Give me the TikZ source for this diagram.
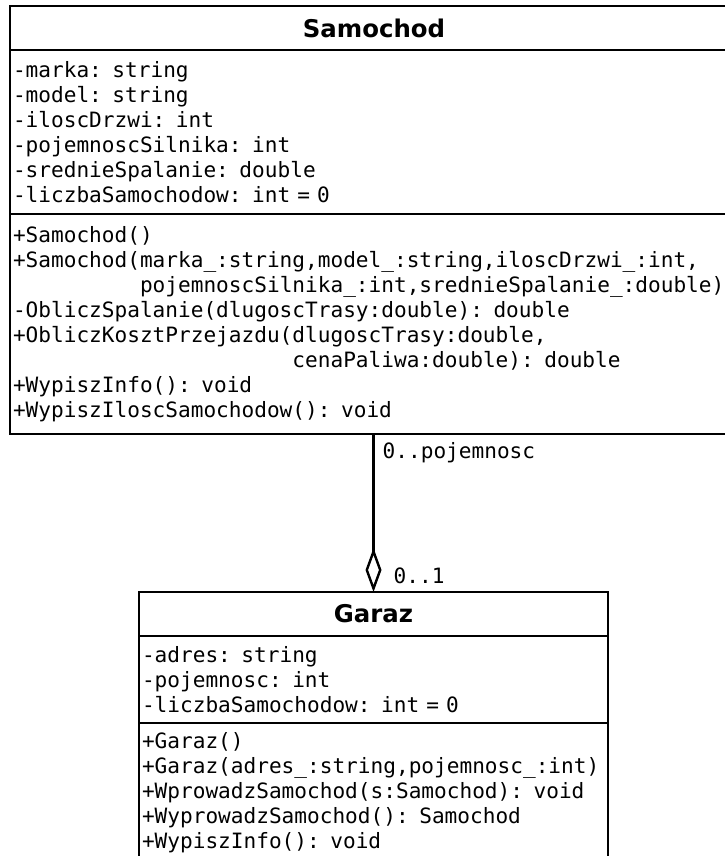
\documentclass[tikz,border=0pt]{standalone}
\usepackage{fontspec}
\setsansfont{DejaVu Sans}
\setmonofont{DejaVu Sans Mono}
\usepackage{tikz}
\usetikzlibrary{arrows.meta, positioning}
\tikzset{
    titlenode/.style = {draw, rectangle, inner sep=0pt, outer sep=0pt, minimum height=22pt,
      font=\fontsize{12.2}{14}\selectfont\sffamily\bfseries},
    listnode/.style = {draw, rectangle, inner xsep=1.5pt, inner ysep=0pt, outer sep=0pt,
      align=left, font=\fontsize{10.55}{12.5}\selectfont\ttfamily},
    textnode/.style = {draw=none, fill=none, rectangle, inner sep=0pt,
      font=\fontsize{10.55}{12.5}\selectfont\ttfamily},
    aggregation/.style = {black, -{Diamond[open, length=22pt, width=8pt]}}
}

\begin{document}
\begin{tikzpicture}[line width=1.2pt]
    \useasboundingbox (0,0) rectangle (362pt,-428pt);

    \node [name=sam, titlenode, minimum width=364pt, anchor=north west] at (5pt,-3pt) {Samochod};
    \node [name=samattr, listnode, text width=361pt, minimum height=82pt, below=0pt of sam]
        {-marka: string\\
         -model: string\\
         -iloscDrzwi: int\\
         -pojemnoscSilnika: int\\
         -srednieSpalanie: double\\
         -liczbaSamochodow: int = 0};
    \node [name=samops, listnode, text width=361pt, minimum height=110pt, below=0pt of samattr]
        {+Samochod()\\
         +Samochod(marka\_:string,model\_:string,iloscDrzwi\_:int,\\
         \phantom{+Samochod(}pojemnoscSilnika\_:int,srednieSpalanie\_:double)\\
         -ObliczSpalanie(dlugoscTrasy:double): double\\
         +ObliczKosztPrzejazdu(dlugoscTrasy:double,\\
         \phantom{+ObliczKosztPrzejazdu(}cenaPaliwa:double): double\\
         +WypiszInfo(): void\\
         +WypiszIloscSamochodow(): void};

    \node [name=gar, titlenode, minimum width=234.5pt, anchor=north west] at (69.5pt,-296pt) {Garaz};
    \node [name=garattr, listnode, text width=231.5pt, minimum height=43.5pt, below=0pt of gar]
        {-adres: string\\
         -pojemnosc: int\\
         -liczbaSamochodow: int = 0};
    \node [name=garops, listnode, text width=231.5pt, minimum height=70pt, below=0pt of garattr]
        {+Garaz()\\
         +Garaz(adres\_:string,pojemnosc\_:int)\\
         +WprowadzSamochod(s:Samochod): void\\
         +WyprowadzSamochod(): Samochod\\
         +WypiszInfo(): void};

    \draw [aggregation] (samops.south -| gar.north) -- (gar.north)
        node [textnode, pos=0, anchor=north west, xshift=4pt, yshift=-3.5pt] {0..pojemnosc}
        node [textnode, pos=1, anchor=south west, xshift=9.5pt, yshift=3.5pt] {0..1};
\end{tikzpicture}
\end{document}
